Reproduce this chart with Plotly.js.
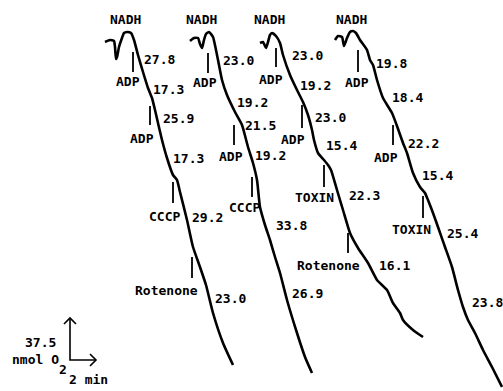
<!DOCTYPE html>
<html>
<head>
<meta charset="utf-8">
<script src="https://cdn.plot.ly/plotly-3.0.1.min.js"></script>
<style>html,body{margin:0;padding:0;background:#fff;}#chart{width:503px;height:391px;}</style>
</head>
<body>
<div id="chart"></div>
<script>
// Oxygen electrode traces (x: time position, y: O2 deflection, chart units)
const trace1X = [105,110,114,115,116,117,119,122,124,127,131,134,138,143,148,152,155,158,162,167,173,177,180,187,193,200,206,213,223,233];
const trace1Y = [42,40,41,47,59,57,47,38,33,32,33,40,55,72,88,98,110,123,140,158,175,180,192,220,247,267,285,313,343,365];
const trace2X = [190,194,198,200,202,204,206,209,213,216,219,222,227,235,242,248,253,257,260,265,270,275,280,287,297,305,312];
const trace2Y = [41,38,38,44,48,40,34,32,37,50,65,80,95,112,125,147,163,180,207,225,240,257,273,300,333,357,373];
const trace3X = [260,263,266,268,270,272,276,280,283,290,297,303,308,312,314,318,324,328,331,337,343,350,358,368,377,387,393,400,403,413,423];
const trace3Y = [43,42,48,42,35,33,36,43,55,75,90,102,115,130,140,153,160,165,170,190,210,233,248,263,280,290,303,313,320,330,337];
const trace4X = [335,338,342,344,347,350,353,356,360,367,370,373,377,383,392,397,403,407,413,420,425,428,433,438,445,452,458,463,468,475,483,492,502];
const trace4Y = [40,36,37,46,38,32,31,33,40,50,60,65,80,98,113,126,143,153,173,187,193,200,213,227,247,267,290,307,320,333,350,367,387];

// Additions: vertical tick marks and their labels
const addX      = [133,150,173,192, 208,234,252, 276,302,324,348, 358,393,423];
const addTop    = [52,106,182,257, 53,125,177, 48,105,165,233, 50,125,196];
const addBottom = [72,125,203,278, 73,145,197, 67,128,187,253, 72,145,218];
const addText   = ['ADP','ADP','CCCP','Rotenone','ADP','ADP','CCCP','ADP','ADP','TOXIN','Rotenone','ADP','ADP','TOXIN'];
const addLabelX = [128,142,164,166, 205,231,244, 271,293,314,328, 357,386,411];
const addLabelY = [81,138,216,290, 82,156,207, 79,139,197,265, 82,157,229];

// NADH labels
const nadhX = [125,201,269,351];
const nadhY = [19,19,19,19];

// Rates (nmol O2 / min)
const rateText = ['27.8','17.3','25.9','17.3','29.2','23.0',
                  '23.0','19.2','21.5','19.2','33.8','26.9',
                  '23.0','19.2','23.0','15.4','22.3','16.1',
                  '19.8','18.4','22.2','15.4','25.4','23.8'];
const rateX = [159,168,178,188,207,230,
               238,252,260,270,291,307,
               307,315,330,341,364,394,
               391,407,423,437,462,487];
const rateY = [59,89,118,158,217,298,
               60,102,125,155,225,293,
               55,85,117,145,195,265,
               63,97,143,175,233,302];

// Scale bar (37.5 nmol O2 vertical, 2 min horizontal)
const scaleOrigin = [70,360];
const scaleUp = [70,318];
const scaleRight = [96,360];

const FONT = {family:'DejaVu Sans Mono, monospace', size:13, color:'#000', weight:'bold'};
const traces = [];
[[trace1X,trace1Y],[trace2X,trace2Y],[trace3X,trace3Y],[trace4X,trace4Y]].forEach(function(t){
  traces.push({x:t[0], y:t[1], type:'scatter', mode:'lines', line:{color:'#000', width:2.6, shape:'spline', smoothing:0.5}, hoverinfo:'skip', showlegend:false});
});
const tx = [], ty = [];
addX.forEach(function(x,i){ tx.push(x,x,null); ty.push(addTop[i],addBottom[i],null); });
traces.push({x:tx, y:ty, type:'scatter', mode:'lines', line:{color:'#000', width:1.8}, hoverinfo:'skip', showlegend:false});

// scale bar arrows with open chevron heads
const h = 6;
const sx = [scaleUp[0], scaleOrigin[0], scaleRight[0], null,
            scaleUp[0]-h, scaleUp[0], scaleUp[0]+h, null,
            scaleRight[0]-h, scaleRight[0], scaleRight[0]-h];
const sy = [scaleUp[1], scaleOrigin[1], scaleRight[1], null,
            scaleUp[1]+h, scaleUp[1], scaleUp[1]+h, null,
            scaleRight[1]-h, scaleRight[1], scaleRight[1]+h];
traces.push({x:sx, y:sy, type:'scatter', mode:'lines', line:{color:'#000', width:1.6}, hoverinfo:'skip', showlegend:false});

const ann = [];
function lab(x,y,t){ ann.push({x:x, y:y, text:t, showarrow:false, font:FONT, xanchor:'center', yanchor:'middle'}); }
addText.forEach(function(t,i){ lab(addLabelX[i], addLabelY[i], t); });
nadhX.forEach(function(x,i){ lab(x, nadhY[i], 'NADH'); });
rateText.forEach(function(t,i){ lab(rateX[i], rateY[i], t); });
lab(40, 342, '37.5');
lab(35, 359, 'nmol O');
lab(63, 369, '2');
lab(88, 379, '2 min');

const layout = {
  width:503, height:391,
  margin:{l:0,r:0,t:0,b:0},
  paper_bgcolor:'#fff', plot_bgcolor:'#fff',
  xaxis:{range:[0,503], visible:false, fixedrange:true},
  yaxis:{range:[391,0], visible:false, fixedrange:true},
  annotations:ann,
  showlegend:false
};
Plotly.newPlot('chart', traces, layout, {staticPlot:true, displayModeBar:false});
</script>
</body>
</html>
